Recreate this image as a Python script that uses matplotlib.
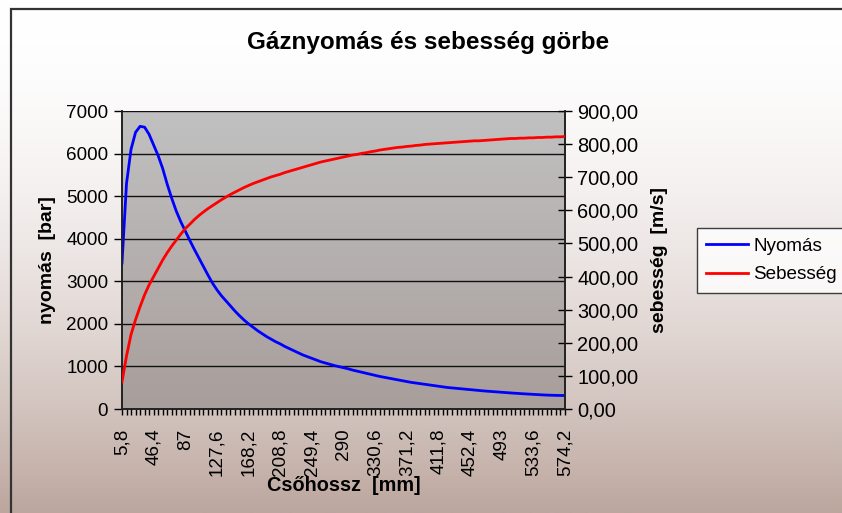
"""
Gáznyomás és sebesség görbe - pressure and velocity along the barrel.
"""

import numpy as np
import matplotlib
matplotlib.use('Agg')
import matplotlib.pyplot as plt
from matplotlib.patches import Rectangle
from matplotlib.ticker import FuncFormatter, MultipleLocator

plt.rcParams['font.family'] = ['Liberation Sans', 'DejaVu Sans']

# barrel length categories [mm] (step 5,8)
lengths = [round(5.8 * k, 1) for k in range(1, 100)]

# pressure [bar]
pressure = [
    3430, 5300, 6100, 6500, 6640, 6620, 6450, 6200, 5950, 5650,
    5280, 4950, 4650, 4400, 4180, 3960, 3750, 3550, 3350, 3150,
    2960, 2800, 2660, 2540, 2420, 2300, 2190, 2090, 2000, 1920,
    1840, 1770, 1700, 1640, 1580, 1530, 1470, 1420, 1370, 1320,
    1270, 1230, 1190, 1150, 1110, 1080, 1050, 1020, 995, 970,
    945, 915, 890, 865, 840, 815, 790, 765, 745, 725,
    705, 685, 665, 645, 625, 610, 595, 580, 565, 550,
    535, 520, 505, 495, 485, 475, 465, 455, 445, 435,
    425, 417, 409, 401, 393, 385, 377, 370, 363, 356,
    350, 344, 338, 332, 327, 323, 320, 318, 316,
]

# velocity [m/s]
velocity = [
    82, 160, 225, 270, 309, 345, 375, 400, 425, 450,
    472, 492, 510, 528, 545, 558, 572, 584, 595, 605,
    614, 623, 632, 640, 648, 655, 662, 669, 675, 681,
    686, 691, 696, 701, 705, 709, 714, 718, 722, 726,
    730, 734, 738, 742, 746, 749, 752, 755, 758, 761,
    764, 767, 769, 772, 774, 777, 779, 782, 784, 786,
    788, 790, 791, 793, 794, 796, 797, 799, 800, 801,
    802, 803, 804, 805, 806, 807, 808, 809, 810, 810,
    811, 812, 813, 814, 815, 816, 817, 817, 818, 818,
    819, 819, 820, 820, 821, 821, 822, 822, 823,
]


def comma(v, decimals=0):
    s = f"{v:.{decimals}f}"
    return s.replace('.', ',')


W, H = 842, 513
TICK_FS = 13.6
LABEL_FS = 14

fig = plt.figure(figsize=(W / 100, H / 100), dpi=100)

# chart background: white at top fading to a brownish pink
bg = fig.add_axes([0, 0, 1, 1], zorder=-10)
t = np.linspace(0, 1, 256) ** 1.8
top_c = np.array([1.0, 1.0, 1.0])
bot_c = np.array([188, 166, 158]) / 255
grad = top_c[None, :] * (1 - t[:, None]) + bot_c[None, :] * t[:, None]
bg.imshow(grad[:, None, :], aspect='auto', extent=[0, 1, 0, 1], origin='upper')
bg.set_xlim(0, 1)
bg.set_ylim(0, 1)
bg.axis('off')
# outer chart frame (only left and top edges visible)
bg.add_patch(Rectangle((11 / W, -0.05), 1.0, 1.05 - 9 / H, fill=False,
                       edgecolor='#333333', linewidth=1.6))

ax = fig.add_axes([122 / W, (H - 409) / H, (565 - 122) / W, (409 - 111) / H])
x = np.arange(len(lengths))

# plot area gradient
pt = np.linspace(0, 1, 256)
p_top = np.array([193, 193, 193]) / 255
p_bot = np.array([168, 158, 155]) / 255
pgrad = p_top[None, :] * (1 - pt[:, None]) + p_bot[None, :] * pt[:, None]
ax.imshow(pgrad[:, None, :], aspect='auto', extent=[0, 1, 0, 1],
          transform=ax.transAxes, origin='upper', zorder=0)

ax.plot(x, pressure, color='#0000ff', linewidth=2.0, label='Nyomás', zorder=3)
ax.set_xlim(0, len(lengths) - 1)
ax.set_ylim(0, 7000)
ax.yaxis.set_major_locator(MultipleLocator(1000))
ax.grid(axis='y', color='#111111', linewidth=1.0, zorder=1)
ax.set_axisbelow(False)

ax.set_xticks(x[::7])
ax.set_xticklabels([comma(v, 1) if v != int(v) else str(int(v)) for v in lengths[::7]],
                   rotation=90, fontsize=TICK_FS)
ax.set_xticks(x, minor=True)
ax.tick_params(axis='x', which='both', direction='out', length=4, width=1, pad=10)
ax.tick_params(axis='y', direction='out', length=6, width=1, labelsize=TICK_FS, pad=4)

for s in ['left', 'right', 'bottom', 'top']:
    ax.spines[s].set_color('#222222')
    ax.spines[s].set_linewidth(1.2)
ax.spines['top'].set_visible(False)

ax.set_ylabel('nyomás  [bar]', fontsize=LABEL_FS, fontweight='bold', labelpad=7)
ax.set_xlabel('Csőhossz  [mm]', fontsize=LABEL_FS + 0.3, fontweight='bold', labelpad=0)

ax2 = ax.twinx()
ax2.plot(x, velocity, color='#ff0000', linewidth=2.0, label='Sebesség', zorder=3)
ax2.set_ylim(0, 900)
ax2.yaxis.set_major_locator(MultipleLocator(100))
ax2.yaxis.set_major_formatter(FuncFormatter(lambda v, p: comma(v, 2)))
ax2.tick_params(axis='y', direction='inout', length=10, width=1, labelsize=14.4, pad=4)
for s in ['left', 'right', 'bottom', 'top']:
    ax2.spines[s].set_color('#222222')
    ax2.spines[s].set_linewidth(1.2)
ax2.spines['top'].set_visible(False)
ax2.set_ylabel('sebesség  [m/s]', fontsize=LABEL_FS, fontweight='bold', labelpad=9)

fig.text(428 / W, 1 - 43 / H, 'Gáznyomás és sebesség görbe', ha='center', va='center',
         fontsize=17.5, fontweight='bold')

h1, l1 = ax.get_legend_handles_labels()
h2, l2 = ax2.get_legend_handles_labels()
leg = fig.legend(h1 + h2, l1 + l2, loc='upper left',
                 bbox_to_anchor=(697 / W, 1 - 228 / H), fontsize=TICK_FS,
                 frameon=True, fancybox=False, handlelength=2.2, handletextpad=0.27,
                 borderpad=0.5, labelspacing=0.6, borderaxespad=0)
leg.get_frame().set_edgecolor('#111111')
leg.get_frame().set_facecolor('white')
leg.get_frame().set_linewidth(1.0)

fig.savefig('out.png', dpi=100)
